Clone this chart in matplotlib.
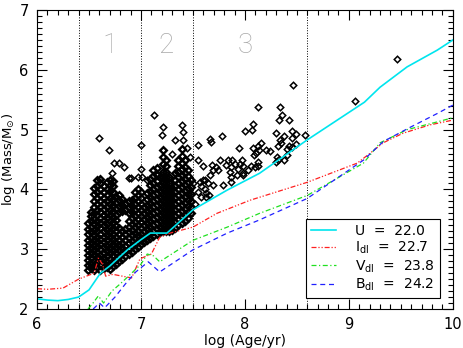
import matplotlib
matplotlib.use("Agg")
import matplotlib.pyplot as plt
from matplotlib.ticker import MultipleLocator

# --- detection limit curves (log age, log mass) ---
u_age = [6.0, 6.1, 6.2, 6.3, 6.4, 6.5, 6.61, 6.7, 6.87, 7.0, 7.09, 7.25, 7.5, 7.83, 8.14, 8.6, 9.15, 9.3, 9.56, 9.85, 10.0]
u_mass = [2.17, 2.15, 2.14, 2.16, 2.2, 2.32, 2.6, 2.72, 2.99, 3.16, 3.27, 3.27, 3.66, 3.99, 4.27, 4.83, 5.46, 5.71, 6.05, 6.33, 6.5]

i_age = [6.0, 6.1, 6.25, 6.4, 6.55, 6.59, 6.63, 6.66, 6.73, 6.82, 6.91, 6.99, 7.1, 7.18, 7.28, 7.5, 7.73, 8.05, 8.6, 9.08, 9.2, 9.33, 9.52, 9.78, 10.0]
i_mass = [2.34, 2.33, 2.35, 2.5, 2.6, 2.85, 2.75, 2.55, 2.58, 2.55, 2.52, 2.84, 2.92, 3.2, 3.27, 3.37, 3.6, 3.82, 4.12, 4.44, 4.6, 4.78, 4.94, 5.08, 5.16]

v_age = [6.49, 6.53, 6.59, 6.64, 6.72, 6.8, 6.88, 7.0, 7.06, 7.12, 7.18, 7.5, 7.83, 8.14, 8.6, 9.14, 9.3, 9.56, 9.85, 10.0]
v_mass = [2.0, 2.08, 2.22, 2.1, 2.3, 2.42, 2.55, 2.75, 2.92, 2.89, 2.79, 3.15, 3.37, 3.6, 3.9, 4.44, 4.78, 5.0, 5.13, 5.2]

b_age = [6.54, 6.6, 6.65, 6.75, 6.85, 6.95, 7.07, 7.18, 7.5, 7.83, 8.14, 8.6, 9.14, 9.33, 9.59, 9.85, 10.0]
b_mass = [2.0, 2.1, 2.02, 2.2, 2.42, 2.62, 2.79, 2.62, 2.99, 3.27, 3.49, 3.85, 4.49, 4.8, 5.04, 5.27, 5.41]

legend_labels = [r"U  =  22.0", r"I$_{\rm dl}$  =  22.7", r"V$_{\rm dl}$  =  23.8", r"B$_{\rm dl}$  =  24.2"]

# --- cluster sample: dense columns (age, list of masses) ---
col_age = [6.49, 6.52, 6.55, 6.58, 6.61, 6.64, 6.67, 6.70, 6.73, 6.76, 6.79, 6.82, 6.85, 6.88, 6.91, 6.94, 6.97, 7.00,
           7.03, 7.06, 7.09, 7.12, 7.15, 7.18, 7.21, 7.24, 7.27, 7.30, 7.33, 7.36, 7.39, 7.42, 7.45, 7.48]
col_mass = [
    [2.66, 2.74, 2.82, 2.90, 2.98, 3.07, 3.16, 3.25, 3.34, 3.44],
    [2.68, 2.76, 2.85, 2.93, 3.02, 3.10, 3.19, 3.28, 3.38, 3.47, 3.56, 3.62],
    [2.65, 2.73, 2.81, 2.90, 2.98, 3.07, 3.15, 3.24, 3.33, 3.42, 3.51, 3.60, 3.70, 3.80, 3.92, 4.02],
    [2.70, 2.78, 2.87, 2.95, 3.04, 3.12, 3.21, 3.30, 3.39, 3.48, 3.57, 3.66, 3.75, 3.85, 3.95, 4.06, 4.15],
    [2.66, 2.74, 2.83, 2.91, 3.00, 3.08, 3.17, 3.26, 3.35, 3.44, 3.53, 3.62, 3.71, 3.80, 3.90, 4.00, 4.10, 4.18],
    [2.68, 2.77, 2.85, 2.94, 3.03, 3.12, 3.21, 3.30, 3.40, 3.49, 3.58, 3.67, 3.77, 3.86, 3.96, 4.05],
    [2.70, 2.79, 2.88, 2.97, 3.06, 3.15, 3.24, 3.33, 3.42, 3.52, 3.61, 3.70, 3.80, 3.90, 4.00, 4.12],
    [2.67, 2.75, 2.84, 2.93, 3.02, 3.11, 3.20, 3.29, 3.38, 3.47, 3.57, 3.66, 3.76, 3.86, 3.97, 4.08, 4.16],
    [2.72, 2.81, 2.90, 2.99, 3.08, 3.17, 3.26, 3.35, 3.45, 3.54, 3.64, 3.74, 3.84, 3.95, 4.05, 4.14],
    [2.75, 2.84, 2.93, 3.02, 3.11, 3.20, 3.30, 3.39, 3.49, 3.58, 3.68, 3.78, 3.88],
    [2.80, 2.89, 2.98, 3.07, 3.16, 3.26, 3.35, 3.62, 3.72, 3.82, 3.90],
    [2.84, 2.93, 3.02, 3.11, 3.20, 3.30, 3.64, 3.74, 3.84],
    [2.88, 2.97, 3.06, 3.15, 3.25, 3.34, 3.66, 3.76],
    [2.92, 3.01, 3.10, 3.19, 3.28, 3.38, 3.48, 3.60, 3.70, 3.80],
    [2.96, 3.05, 3.14, 3.23, 3.33, 3.43, 3.53, 3.63, 3.73, 3.83],
    [3.00, 3.09, 3.18, 3.27, 3.37, 3.46, 3.56, 3.66, 3.76, 3.86, 3.95],
    [3.04, 3.13, 3.22, 3.31, 3.40, 3.50, 3.60, 3.70, 3.80, 3.90, 4.00],
    [3.08, 3.17, 3.26, 3.35, 3.45, 3.55, 3.65, 3.75, 3.85, 3.95],
    [3.12, 3.21, 3.30, 3.40, 3.50, 3.60, 3.70],
    [3.15, 3.24, 3.34, 3.44, 3.54, 3.64, 3.74, 3.84, 3.94],
    [3.18, 3.27, 3.37, 3.47, 3.57, 3.67, 3.77, 3.87, 3.97, 4.07, 4.17],
    [3.22, 3.31, 3.41, 3.51, 3.61, 3.71, 3.81, 3.91, 4.01, 4.11, 4.22, 4.32],
    [3.25, 3.34, 3.44, 3.54, 3.64, 3.74, 3.84, 3.94, 4.04, 4.14, 4.25, 4.36],
    [3.28, 3.38, 3.48, 3.58, 3.68, 3.78, 3.88, 3.98, 4.08, 4.20],
    [3.30, 3.40, 3.50, 3.60, 3.70, 3.80, 3.90, 4.00, 4.10, 4.20, 4.30, 4.42, 4.55, 4.66],
    [3.30, 3.40, 3.50, 3.60, 3.70, 3.80, 3.90, 4.00, 4.10, 4.20, 4.30, 4.40, 4.50],
    [3.30, 3.40, 3.50, 3.60, 3.70, 3.80, 3.90, 4.00, 4.10, 4.20],
    [3.32, 3.42, 3.52, 3.62, 3.72, 3.82, 3.92, 4.02],
    [3.36, 3.46, 3.56, 3.66, 3.76, 3.86, 3.96, 4.06, 4.16, 4.28],
    [3.40, 3.50, 3.60, 3.70, 3.80, 3.90, 4.00, 4.10, 4.20, 4.30, 4.40, 4.50],
    [3.44, 3.54, 3.64, 3.74, 3.84, 3.94, 4.04, 4.14, 4.24, 4.34, 4.44, 4.56, 4.68],
    [3.48, 3.58, 3.68, 3.78, 3.88, 3.98, 4.08, 4.18, 4.28, 4.38, 4.50],
    [3.52, 3.62, 3.72, 3.82, 3.92, 4.02, 4.12, 4.22, 4.32],
    [3.60, 3.70, 3.80, 3.92, 4.04, 4.16],
]

# --- cluster sample: scattered points ---
pt_age = [6.60, 6.69, 6.74, 6.79, 6.84, 6.72, 6.88, 6.90, 7.00, 6.97, 7.01, 7.06, 7.00,
          7.13, 7.21, 7.20, 7.39, 7.40, 7.33, 7.40, 7.55, 7.30, 7.44, 7.47, 7.55, 7.60, 7.62,
          7.57, 7.63, 7.62, 8.46, 8.13, 8.34, 8.36, 8.33, 8.42, 8.08, 8.07, 8.00, 7.78, 7.66,
          7.67, 8.30, 8.34, 8.45, 8.49, 8.58, 8.38, 8.45, 8.35, 8.42, 8.49, 8.08, 8.15, 8.13,
          8.20, 8.24, 7.94, 8.32, 8.31, 8.32, 8.38, 8.30, 8.13, 8.13, 8.10, 8.06, 7.97, 7.95,
          7.98, 7.93, 8.09, 8.11, 8.14, 7.98, 7.84, 7.82, 7.87, 7.88, 7.90, 7.86, 7.87, 7.87,
          7.79, 7.76, 7.72, 7.68, 7.69, 7.74, 7.66, 7.64, 7.69, 7.63, 7.65, 7.60, 7.58, 7.58,
          7.98, 8.03, 7.92, 8.40, 8.45, 8.40, 9.06, 9.46, 7.52, 7.55, 7.50]
pt_mass = [4.86, 4.66, 4.45, 4.45, 4.37, 4.28, 4.19, 4.19, 4.75, 4.21, 4.21, 4.16, 4.35,
           5.24, 5.04, 4.91, 5.08, 4.96, 4.83, 4.83, 4.74, 4.60, 4.69, 4.55, 4.49, 4.40, 4.16,
           4.12, 3.87, 4.00, 5.74, 5.38, 5.38, 5.25, 5.16, 5.17, 5.09, 5.00, 4.97, 4.89, 4.84,
           4.80, 4.95, 4.83, 4.97, 4.92, 4.91, 4.89, 4.86, 4.78, 4.73, 4.76, 4.69, 4.78, 4.72,
           4.66, 4.64, 4.69, 4.73, 4.55, 4.50, 4.50, 4.46, 4.46, 4.39, 4.38, 4.39, 4.49, 4.43,
           4.40, 4.35, 4.58, 4.61, 4.66, 4.27, 4.49, 4.41, 4.38, 4.49, 4.43, 4.30, 4.21, 4.13,
           4.07, 4.50, 4.38, 4.41, 4.33, 4.33, 4.24, 4.10, 4.07, 3.94, 3.91, 4.16, 4.05, 3.88,
           4.24, 4.32, 4.24, 4.68, 4.71, 4.58, 5.48, 6.18, 3.75, 3.95, 4.10]

# limits between the three age intervals
bounds = [6.4, 7.0, 7.5, 8.6]
regions = ["1", "2", "3"]
region_x = [6.7, 7.24, 8.0]

fig = plt.figure(figsize=(4.63, 3.48), dpi=100)
ax = fig.add_axes([0.08, 0.112, 0.898, 0.859])

for b in bounds:
    ax.axvline(b, color="k", ls=":", lw=0.7)

for xr, r in zip(region_x, regions):
    ax.text(xr, 6.4, r, color="#a8a8a8", fontsize=20, ha="center", va="center",
            family="Roboto", fontweight="light")

dense_x = [a for a, ms in zip(col_age, col_mass) for _ in ms]
dense_y = [m for ms in col_mass for m in ms]
ax.plot(dense_x, dense_y, ls="none", marker="D", ms=3.4, mfc="none", mec="k", mew=1.7)
ax.plot(pt_age, pt_mass, ls="none", marker="D", ms=3.3, mfc="none", mec="k", mew=1.1)

l1, = ax.plot(u_age, u_mass, color="#00e5ee", lw=1.2)
l2, = ax.plot(i_age, i_mass, color="#ff2020", lw=0.9, ls=(0, (4, 1.5, 1, 1.5, 1, 1.5)))
l3, = ax.plot(v_age, v_mass, color="#20e020", lw=0.9, ls=(0, (4, 2, 1, 2)))
l4, = ax.plot(b_age, b_mass, color="#2020ff", lw=0.9, ls=(0, (4, 3)))

ax.set_xlim(6, 10)
ax.set_ylim(2, 7)
ax.xaxis.set_major_locator(MultipleLocator(1))
ax.xaxis.set_minor_locator(MultipleLocator(0.1))
ax.yaxis.set_major_locator(MultipleLocator(1))
ax.yaxis.set_minor_locator(MultipleLocator(0.1))
ax.tick_params(which="both", direction="in", top=True, right=True, labelsize=10.5, width=0.8)
ax.tick_params(which="major", length=7, pad=6)
ax.tick_params(which="minor", length=3.5)
for s in ax.spines.values():
    s.set_linewidth(0.8)
ax.set_xlabel("log (Age/yr)", fontsize=10, labelpad=1)
ax.set_ylabel(r"log (Mass/M$_{\odot}$)", fontsize=9.5, labelpad=2)

leg = ax.legend([l1, l2, l3, l4], legend_labels, loc="lower right",
                bbox_to_anchor=(0.969, 0.037), fontsize=10, handlelength=1.8,
                handletextpad=1.4, labelspacing=0.15, borderpad=0.35,
                fancybox=False, framealpha=1, edgecolor="k", borderaxespad=0)
leg.get_frame().set_linewidth(0.8)

fig.savefig("out.png", dpi=100)
